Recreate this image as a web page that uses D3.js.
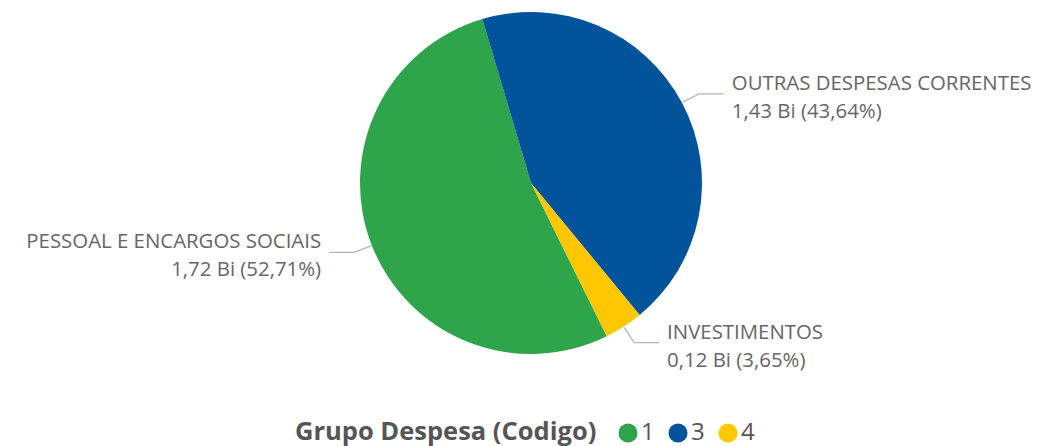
<!DOCTYPE html>
<html>
<head>
<meta charset="utf-8">
<script src="https://cdn.jsdelivr.net/npm/d3@7"></script>
<style>
  body { margin: 0; background: #fff; }
  text { font-family: "Open Sans", "Noto Sans", sans-serif; }
</style>
</head>
<body>
<svg id="chart"></svg>
<script>
const codigos = ["1", "3", "4"];
const nomes = ["PESSOAL E ENCARGOS SOCIAIS", "OUTRAS DESPESAS CORRENTES", "INVESTIMENTOS"];
const valores = [1.7246, 1.4279, 0.1194]; // bilhoes
const cores = ["#2EA44B", "#01539B", "#FEC700"];

const width = 1038, height = 446;
const cx = 531, cy = 183, raio = 171;

const svg = d3.select("#chart").attr("width", width).attr("height", height);
const g = svg.append("g").attr("transform", `translate(${cx},${cy})`);

const dados = codigos.map((c, i) => ({ codigo: c, nome: nomes[i], valor: valores[i], cor: cores[i] }));
const total = d3.sum(valores);
const fmt = v => v.toFixed(2).replace(".", ",");

const pie = d3.pie().sort(null).value(d => d.valor)
  .startAngle(153.7 * Math.PI / 180)
  .endAngle((153.7 + 360) * Math.PI / 180);
const arcs = pie(dados);

const arc = d3.arc().innerRadius(0).outerRadius(raio);

g.selectAll("path.fatia")
  .data(arcs)
  .enter()
  .append("path")
  .attr("class", "fatia")
  .attr("d", arc)
  .attr("fill", d => d.data.cor);

// linhas guia e rotulos
const ptEdge = d3.arc().innerRadius(raio + 1).outerRadius(raio + 1);
const ptElbow = d3.arc().innerRadius(raio + 19).outerRadius(raio + 19);

arcs.forEach(d => {
  const a = ptEdge.centroid(d);
  const b = ptElbow.centroid(d);
  const dir = Math.sin((d.startAngle + d.endAngle) / 2) > 0 ? 1 : -1;
  const c = [b[0] + dir * 25, b[1]];
  g.append("polyline")
    .attr("points", [a, b, c].map(p => p.join(",")).join(" "))
    .attr("fill", "none")
    .attr("stroke", "#B4B4B4")
    .attr("stroke-width", 1.3);
  const tx = c[0] + dir * 8;
  const anchor = dir > 0 ? "start" : "end";
  g.append("text")
    .attr("x", tx).attr("y", c[1] - 4)
    .attr("text-anchor", anchor)
    .attr("font-size", 20.4)
    .attr("fill", "#666666")
    .text(d.data.nome);
  g.append("text")
    .attr("x", tx).attr("y", c[1] + 24)
    .attr("text-anchor", anchor)
    .attr("font-size", 20.4)
    .attr("fill", "#666666")
    .text(`${fmt(d.data.valor)} Bi (${fmt(d.data.valor / total * 100)}%)`);
});

// legenda
const leg = svg.append("g").attr("transform", "translate(295,440)");
leg.append("text")
  .attr("x", 0).attr("y", 0)
  .attr("font-size", 25.5)
  .attr("font-weight", "bold")
  .attr("fill", "#555555")
  .text("Grupo Despesa (Codigo)");

const itens = leg.selectAll("g.item")
  .data(dados)
  .enter()
  .append("g")
  .attr("class", "item")
  .attr("transform", (d, i) => `translate(${333 + i * 50},0)`);
itens.append("circle")
  .attr("cx", 0).attr("cy", -7)
  .attr("r", 9.5)
  .attr("fill", d => d.cor);
itens.append("text")
  .attr("x", 13).attr("y", 0)
  .attr("font-size", 24)
  .attr("fill", "#555555")
  .text(d => d.codigo);
</script>
</body>
</html>
